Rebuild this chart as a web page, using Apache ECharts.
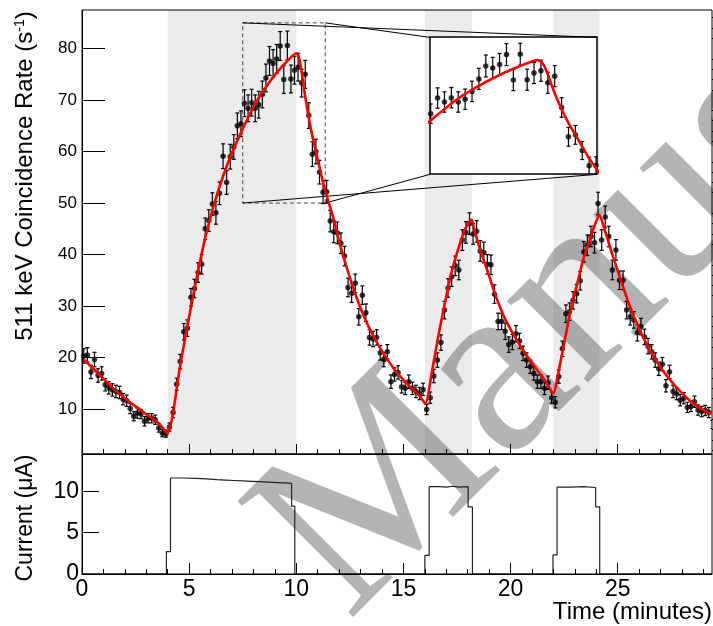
<!DOCTYPE html>
<html><head><meta charset="utf-8">
<script src="https://cdn.jsdelivr.net/npm/echarts@6/dist/echarts.min.js"></script>
<style>html,body{margin:0;padding:0;background:#fff}#c{width:713px;height:626px}</style>
</head><body><div id="c"></div>
<script>
// ---- data ----
const binWidth = 1 / 6; // minutes per bin (10 s)
const rate = [20.3,20.5,17.2,19.6,16.5,16.9,14.7,14.1,13.7,13.4,13.2,11.9,11.6,10.1,8.6,9.2,9.0,7.6,8.2,8.2,
  7.9,6.3,5.3,5.2,6.5,9.3,14.8,19.2,25.0,25.7,31.7,33.4,36.5,38.1,45.0,46.6,49.8,48.1,51.9,59.1,
  54.0,59.0,60.9,65.0,65.4,69.4,68.4,69.5,68.4,69.1,71.1,74.3,77.6,77.1,78.0,80.5,74.0,80.6,74.1,75.8,
  76.4,73.3,75.0,67.0,59.5,60.0,56.0,52.1,52.2,46.5,44.4,44.2,42.2,39.7,33.6,32.5,34.4,27.9,32.1,28.7,
  23.9,23.6,23.9,20.9,19.6,21.1,15.3,16.7,17.1,14.3,14.0,15.3,14.0,13.4,13.0,13.8,9.9,12.2,16.4,19.5,
  22.9,29.2,33.5,35.7,37.8,37.0,42.8,44.3,46.0,44.0,44.5,40.7,40.4,38.1,38.0,32.3,27.0,27.0,25.1,22.5,
  23.0,24.6,23.2,20.8,19.5,18.2,16.9,15.3,15.3,14.0,15.1,12.2,11.3,16.3,21.7,28.5,28.9,31.1,32.4,34.9,
  40.5,41.8,43.5,42.3,49.9,42.8,47.3,43.5,37.0,40.9,35.0,35.0,29.2,27.9,27.3,24.8,26.0,24.0,22.2,21.1,
  19.5,17.8,18.7,14.5,17.2,13.4,12.9,11.7,12.1,10.3,10.5,11.4,9.8,9.5,9.7,9.3,7.0];
const rateErr = [1.4,1.4,1.3,1.4,1.3,1.3,1.2,1.2,1.2,1.2,1.2,1.1,1.1,1.0,0.9,1.0,0.9,0.9,0.9,0.9,
  0.9,0.8,0.7,0.7,0.8,1.0,1.2,1.4,1.6,1.6,1.7,1.8,1.9,1.9,2.1,2.1,2.2,2.2,2.2,2.4,
  2.3,2.4,2.4,2.5,2.5,2.6,2.6,2.6,2.6,2.6,2.6,2.7,2.8,2.7,2.8,2.8,2.7,2.8,2.7,2.7,
  2.7,2.7,2.7,2.5,2.4,2.4,2.3,2.2,2.2,2.1,2.1,2.1,2.0,1.9,1.8,1.8,1.8,1.6,1.8,1.7,
  1.5,1.5,1.5,1.4,1.4,1.4,1.3,1.3,1.3,1.2,1.2,1.3,1.2,1.2,1.2,1.2,1.0,1.1,1.3,1.4,
  1.5,1.7,1.8,1.9,1.9,1.9,2.0,2.1,2.1,2.0,2.1,2.0,2.0,1.9,1.9,1.8,1.6,1.6,1.6,1.5,
  1.5,1.6,1.5,1.4,1.4,1.3,1.3,1.3,1.3,1.2,1.3,1.1,1.1,1.3,1.5,1.7,1.7,1.7,1.8,1.8,
  2.0,2.0,2.0,2.0,2.2,2.0,2.1,2.0,1.9,2.0,1.8,1.8,1.7,1.6,1.6,1.6,1.6,1.5,1.5,1.4,
  1.4,1.3,1.3,1.2,1.3,1.2,1.1,1.1,1.1,1.0,1.0,1.1,1.0,1.0,1.0,1.0,0.8];
const fitTime = [0.1,0.5,1.0,1.5,2.0,2.5,3.0,3.5,3.8,3.97,
  4.1,4.26,4.41,4.57,4.88,5.19,5.5,5.82,6.2,6.59,7.06,7.52,7.99,8.46,9.08,9.7,10.0,
  10.1,10.2,10.35,10.5,10.75,11.0,11.25,11.5,11.75,12.0,12.25,12.5,12.81,13.12,13.59,14.05,14.67,15.29,15.76,16.03,
  16.3,16.62,16.93,17.24,17.63,17.94,18.18,
  18.33,18.64,18.95,19.26,19.73,20.2,20.66,21.13,21.6,22.0,
  22.22,22.53,22.84,23.15,23.38,23.54,23.85,24.15,
  24.39,24.78,25.17,25.56,26.03,26.5,26.96,27.43,27.9,28.37,28.83,29.35];
const fitRate = [19.6,17.9,15.9,13.8,12.1,10.5,9.0,7.5,6.2,5.3,
  6.3,9.5,13.7,18.2,25.3,32.1,38.5,44.5,50.3,55.3,60.4,64.6,68.6,71.8,75.3,78.1,79.1,
  78.6,76.8,72.5,68.5,63.0,58.5,54.0,50.3,46.8,42.5,38.9,35.5,31.7,28.3,24.2,20.9,17.2,14.4,12.5,11.0,
  16.5,24.0,30.5,36.5,42.0,45.5,46.8,
  44.4,40.2,36.5,32.5,27.6,24.0,20.9,18.2,15.6,13.0,
  16.9,23.4,29.9,35.0,38.9,40.9,44.8,47.7,
  44.8,39.6,34.7,30.0,25.3,21.5,18.3,15.7,13.5,11.6,10.2,9.0];
const curTime = [0,3.94,4.13,4.7,5.3,5.8,6.3,6.7,7.1,7.5,7.9,8.3,8.7,9.1,9.5,9.78,9.93,
  16.0,16.2,16.7,17.0,17.3,17.6,18.02,18.22,21.98,22.17,22.8,23.4,23.97,24.16,29.4];
const curVal = [0,2.7,11.6,11.55,11.5,11.4,11.35,11.3,11.25,11.2,11.15,11.1,11.05,11.0,10.95,8.2,0,
  2.25,10.55,10.5,10.6,10.5,10.55,8.1,0,2.3,10.5,10.55,10.45,8.1,0,0];
const beamOn = [[4.0,10.0],[16.0,18.2],[22.0,24.15]];
const xMajor = [0,5,10,15,20,25];
const xMinor = [1,2,3,4,6,7,8,9,11,12,13,14,16,17,18,19,21,22,23,24,26,27,28,29];
const yMajorTop = [10,20,30,40,50,60,70,80];
const yMinorTop = [2,4,6,8,12,14,16,18,22,24,26,28,32,34,36,38,42,44,46,48,52,54,56,58,62,64,66,68,72,74,76,78,82,84,86];
const yMajorBottom = [0,5,10];
const zoomBox = {x:[7.5,11.35], y:[50,85]};          // dashed region on the main plot
const insetRange = {x:[7.40,11.44], y:[50,85]};      // axes of the inset
const insetFrame = {x:[16.24,24.02], y:[55.57,82.18]}; // inset frame in main-plot coordinates

// ---- build ----
const pts = rate.map((v,i)=>[(i+0.5)*binWidth, v, rateErr[i]]);
const fit = fitTime.map((t,i)=>[t, fitRate[i]]);
const cur = curTime.map((t,i)=>[t, curVal[i]]);
const FONT = 'Liberation Sans';

function errRender(params, api){
  const x = api.value(0), y = api.value(1), e = api.value(2);
  const a = api.coord([x, y+e]), b = api.coord([x, y-e]);
  const cap = 2, st = {stroke:'#000', lineWidth:1.2};
  return {type:'group', children:[
    {type:'line', shape:{x1:a[0],y1:a[1],x2:b[0],y2:b[1]}, style:st},
    {type:'line', shape:{x1:a[0]-cap,y1:a[1],x2:a[0]+cap,y2:a[1]}, style:st},
    {type:'line', shape:{x1:b[0]-cap,y1:b[1],x2:b[0]+cap,y2:b[1]}, style:st}
  ]};
}

const chart = echarts.init(document.getElementById('c'), null, {renderer:'canvas'});
const tickStyle = {color:'#000', width:1};
const noSplit = {show:false};

chart.setOption({
  animation:false,
  backgroundColor:'#fff',
  grid:[
    {left:82, top:10, width:630, height:444, show:true, borderColor:'#000', borderWidth:1, backgroundColor:'rgba(0,0,0,0)', z:10, containLabel:false, outerBoundsMode:'none'},
    {left:82, top:454, width:630, height:120, show:true, borderColor:'#000', borderWidth:1, backgroundColor:'rgba(0,0,0,0)', z:10, containLabel:false, outerBoundsMode:'none'},
    {left:430, top:37, width:167, height:137, show:true, borderColor:'#000', borderWidth:1.5, backgroundColor:'#fff', z:2, containLabel:false, outerBoundsMode:'none'}
  ],
  xAxis:[
    {gridIndex:0, type:'value', min:0, max:29.4, interval:5, position:'bottom', z:10,
     axisLine:{show:true, lineStyle:tickStyle}, axisTick:{show:true, inside:true, length:10, lineStyle:tickStyle, customValues:xMajor},
     axisLabel:{show:false}, splitLine:noSplit},
    {gridIndex:0, type:'value', min:0, max:29.4, position:'top', offset:-444, z:10,
     axisLine:{show:false}, axisTick:{show:true, inside:false, length:5, lineStyle:tickStyle, customValues:xMinor},
     axisLabel:{show:false}, splitLine:noSplit},
    {gridIndex:1, type:'value', min:0, max:29.4, interval:5, position:'bottom', z:10,
     axisLine:{show:true, lineStyle:tickStyle}, axisTick:{show:true, inside:true, length:11, lineStyle:tickStyle, customValues:xMajor},
     axisLabel:{show:true, customValues:xMajor, color:'#000', fontFamily:FONT, fontSize:23, margin:4},
     splitLine:noSplit,
     name:'Time (minutes)', nameLocation:'end', nameGap:0, nameMoveOverlap:false,
     nameTextStyle:{color:'#000', fontFamily:FONT, fontSize:24, align:'right', verticalAlign:'top', padding:[26,0,0,0]}},
    {gridIndex:1, type:'value', min:0, max:29.4, position:'top', offset:-120, z:10,
     axisLine:{show:false}, axisTick:{show:true, inside:false, length:5, lineStyle:tickStyle, customValues:xMinor},
     axisLabel:{show:false}, splitLine:noSplit},
    {gridIndex:2, type:'value', min:insetRange.x[0], max:insetRange.x[1], show:false, splitLine:noSplit}
  ],
  yAxis:[
    {gridIndex:0, type:'value', min:1.25, max:87.5, position:'left', z:10,
     axisLine:{show:true, lineStyle:tickStyle}, axisTick:{show:true, inside:true, length:23, lineStyle:tickStyle, customValues:yMajorTop},
     axisLabel:{show:true, customValues:yMajorTop, color:'#000', fontFamily:FONT, fontSize:17, margin:5},
     splitLine:noSplit,
     name:'511 keV Coincidence Rate (s{sup|-1})', nameLocation:'middle', nameGap:45, nameMoveOverlap:false,
     nameTextStyle:{color:'#000', fontFamily:FONT, fontSize:24, padding:[0,0,0,112],
       rich:{sup:{fontSize:14, fontFamily:FONT, color:'#000', verticalAlign:'top', lineHeight:14}}}},
    {gridIndex:0, type:'value', min:1.25, max:87.5, position:'right', offset:-630, z:10,
     axisLine:{show:false}, axisTick:{show:true, inside:false, length:12, lineStyle:tickStyle, customValues:yMinorTop},
     axisLabel:{show:false}, splitLine:noSplit},
    {gridIndex:1, type:'value', min:0, max:14.5, position:'left', z:10,
     axisLine:{show:true, lineStyle:tickStyle}, axisTick:{show:true, inside:true, length:17, lineStyle:tickStyle, customValues:yMajorBottom},
     axisLabel:{show:true, customValues:yMajorBottom, color:'#000', fontFamily:FONT, fontSize:23, margin:3},
     splitLine:noSplit,
     name:'Current (μA)', nameLocation:'middle', nameGap:45, nameMoveOverlap:false,
     nameTextStyle:{color:'#000', fontFamily:FONT, fontSize:23, padding:[0,8,0,0]}},
    {gridIndex:2, type:'value', min:insetRange.y[0], max:insetRange.y[1], show:false, splitLine:noSplit}
  ],
  graphic:[
    {type:'text', x:390, y:664, rotation:Math.PI/4, z:3, silent:true,
     style:{text:'Manuscript', fontFamily:'Liberation Serif', fontSize:250, fill:'rgba(88,88,88,0.45)', verticalAlign:'bottom'}}
  ],
  series:[
    {type:'line', xAxisIndex:0, yAxisIndex:0, data:[], z:1, silent:true,
     markArea:{silent:true, z:1, itemStyle:{color:'#ebebeb'},
       data: beamOn.map(b=>[{xAxis:b[0]},{xAxis:b[1]}])}},
    {type:'custom', xAxisIndex:0, yAxisIndex:0, data:pts, renderItem:errRender, z:5, clip:true, silent:true},
    {type:'scatter', xAxisIndex:0, yAxisIndex:0, data:pts.map(p=>[p[0],p[1]]), symbol:'circle', symbolSize:5.5,
     itemStyle:{color:'#000'}, z:6, silent:true},
    {type:'line', xAxisIndex:0, yAxisIndex:0, data:fit, showSymbol:false, smooth:0.2, z:7, silent:true,
     lineStyle:{color:'#ff0000', width:2.6},
     markArea:{silent:true, z:4, itemStyle:{color:'rgba(0,0,0,0)', borderColor:'#444', borderWidth:1, borderType:[4,3]},
       data:[[{coord:[zoomBox.x[0], zoomBox.y[1]]},{coord:[zoomBox.x[1], zoomBox.y[0]]}]]},
     markLine:{silent:true, z:4, symbol:['none','none'], label:{show:false}, lineStyle:{color:'#000', width:1, type:'solid'},
       data:[
         [{coord:[zoomBox.x[0], zoomBox.y[1]]},{coord:[insetFrame.x[1], insetFrame.y[1]]}],
         [{coord:[zoomBox.x[1], zoomBox.y[1]]},{coord:[insetFrame.x[0], insetFrame.y[1]]}],
         [{coord:[zoomBox.x[0], zoomBox.y[0]]},{coord:[insetFrame.x[1], insetFrame.y[0]]}],
         [{coord:[zoomBox.x[1], zoomBox.y[0]]},{coord:[insetFrame.x[0], insetFrame.y[0]]}]
       ]}},
    {type:'line', xAxisIndex:2, yAxisIndex:2, data:cur, step:'end', showSymbol:false, z:5, silent:true,
     lineStyle:{color:'#222', width:1.2}},
    {type:'custom', xAxisIndex:4, yAxisIndex:3, data:pts, renderItem:errRender, z:6, clip:true, silent:true},
    {type:'scatter', xAxisIndex:4, yAxisIndex:3, data:pts.map(p=>[p[0],p[1]]), symbol:'circle', symbolSize:5.5,
     itemStyle:{color:'#000'}, z:6, silent:true, clip:true},
    {type:'line', xAxisIndex:4, yAxisIndex:3, data:fit, showSymbol:false, smooth:0.2, z:7, silent:true, clip:true,
     lineStyle:{color:'#ff0000', width:2.6}}
  ]
});
</script></body></html>
